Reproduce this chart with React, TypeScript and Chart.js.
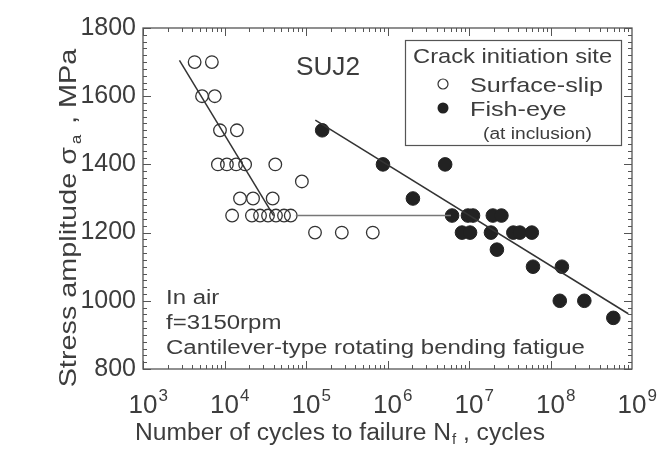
import React, { useEffect, useRef } from "react";
import { Chart, registerables } from "chart.js";

Chart.register(...registerables);

// ---------- data ----------
const surfaceSlipN = [
  4.3e3, 7.0e3,
  5.3e3, 7.6e3,
  8.8e3, 1.42e4,
  8.3e3, 1.07e4, 1.39e4, 1.79e4, 4.2e4,
  8.9e4,
  1.55e4, 2.24e4, 3.9e4,
  1.24e4, 2.17e4, 2.73e4, 3.42e4, 4.28e4, 5.37e4, 6.5e4,
  1.29e5, 2.75e5, 6.6e5,
];
const surfaceSlipS = [
  1700, 1700,
  1600, 1600,
  1500, 1500,
  1400, 1400, 1400, 1400, 1400,
  1350,
  1300, 1300, 1300,
  1250, 1250, 1250, 1250, 1250, 1250, 1250,
  1200, 1200, 1200,
];

const fishEyeN = [
  1.58e5,
  8.8e5, 5.1e6,
  2.05e6,
  6.2e6, 9.7e6, 1.12e7, 1.96e7, 2.5e7,
  8.2e6, 1.03e7, 1.86e7, 3.5e7, 4.2e7, 5.9e7,
  2.2e7,
  6.1e7, 1.38e8,
  1.3e8, 2.6e8,
  5.9e8,
];
const fishEyeS = [
  1500,
  1400, 1400,
  1300,
  1250, 1250, 1250, 1250, 1250,
  1200, 1200, 1200, 1200, 1200, 1200,
  1150,
  1100, 1100,
  1000, 1000,
  950,
];

const surfaceLineN = [2.8e3, 4.0e4];
const surfaceLineS = [1705, 1250];
const limitLineN = [7.5e4, 6.0e6];
const limitLineS = [1250, 1250];
const fishLineN = [1.3e5, 9.0e8];
const fishLineS = [1530, 962];

const xTickExponents = [3, 4, 5, 6, 7, 8, 9];
const yTickValues = [800, 1000, 1200, 1400, 1600, 1800];

const xTitleMain = "Number of cycles to failure N";
const xTitleSub = "f";
const xTitleEnd = " , cycles";
const yTitleMain = "Stress amplitude σ";
const yTitleSub = "a";
const yTitleEnd = " , MPa";
const materialLabel = "SUJ2";
const conditionLines = ["In air", "f=3150rpm", "Cantilever-type rotating bending fatigue"];
const legendTitle = "Crack initiation site";
const legendSurface = "Surface-slip";
const legendFish = "Fish-eye";
const legendFishNote = "(at inclusion)";

const FONT = "'Liberation Sans', Arial, Helvetica, sans-serif";
const TEXT = "#3d3d3d";
const AXIS = "#555555";

const toPts = (xs: number[], ys: number[]) => xs.map((x, i) => ({ x, y: ys[i] }));

// draw text horizontally stretched (the scanned font is wider than Arial)
function wideText(
  ctx: CanvasRenderingContext2D,
  text: string,
  x: number,
  y: number,
  size: number,
  stretch: number,
  align: "left" | "center" = "left"
) {
  ctx.save();
  ctx.font = `${size}px ${FONT}`;
  ctx.textAlign = "left";
  const w = ctx.measureText(text).width * stretch;
  const x0 = align === "center" ? x - w / 2 : x;
  ctx.translate(x0, y);
  ctx.scale(stretch, 1);
  ctx.fillText(text, 0, 0);
  ctx.restore();
  return w;
}
function textWidth(ctx: CanvasRenderingContext2D, text: string, size: number, stretch: number) {
  ctx.font = `${size}px ${FONT}`;
  return ctx.measureText(text).width * stretch;
}

const decorPlugin = {
  id: "decor",
  afterDraw(chart: any) {
    const ctx = chart.ctx as CanvasRenderingContext2D;
    const xs = chart.scales.x;
    const ys = chart.scales.y;
    const { left, right, top, bottom } = chart.chartArea;
    ctx.save();

    // frame
    ctx.strokeStyle = AXIS;
    ctx.lineWidth = 1.3;
    ctx.strokeRect(left, top, right - left, bottom - top);

    // ticks
    ctx.lineWidth = 1;
    ctx.beginPath();
    for (let v = 800; v <= 1800; v += 20) {
      const y = Math.round(ys.getPixelForValue(v)) + 0.5;
      const len = v % 200 === 0 ? 8 : 4;
      ctx.moveTo(left, y);
      ctx.lineTo(left + len, y);
      ctx.moveTo(right, y);
      ctx.lineTo(right - len, y);
    }
    for (let e = 3; e < 9; e++) {
      for (let m = 1; m <= 9; m++) {
        const v = m * Math.pow(10, e);
        const x = Math.round(xs.getPixelForValue(v)) + 0.5;
        const len = m === 1 ? 8 : 4;
        ctx.moveTo(x, bottom);
        ctx.lineTo(x, bottom - len);
        ctx.moveTo(x, top);
        ctx.lineTo(x, top + len);
      }
    }
    ctx.stroke();

    ctx.fillStyle = TEXT;
    ctx.textBaseline = "alphabetic";

    // x tick labels: "10" centred on tick with superscript exponent
    for (const e of xTickExponents) {
      const x = xs.getPixelForValue(Math.pow(10, e));
      ctx.font = `26px ${FONT}`;
      ctx.textAlign = "center";
      const w = ctx.measureText("10").width;
      ctx.fillText("10", x, bottom + 44);
      ctx.font = `17px ${FONT}`;
      ctx.textAlign = "left";
      ctx.fillText(String(e), x + w / 2 + 1, bottom + 32);
    }

    // x title with subscript
    {
      const S = 1.07;
      const w1 = textWidth(ctx, xTitleMain, 23, S);
      const w2 = textWidth(ctx, xTitleSub, 15, 1);
      const w3 = textWidth(ctx, xTitleEnd, 23, S);
      const total = w1 + w2 + w3 + 1;
      const x0 = 340 - total / 2;
      const by = 440;
      wideText(ctx, xTitleMain, x0, by, 23, S);
      wideText(ctx, xTitleSub, x0 + w1 + 1, by + 4, 15, 1);
      wideText(ctx, xTitleEnd, x0 + w1 + w2 + 1, by, 23, S);
    }

    // y title rotated
    {
      const S = 1.2;
      const w1 = textWidth(ctx, yTitleMain, 24, S);
      const w2 = textWidth(ctx, yTitleSub, 15, 1.1);
      const w3 = textWidth(ctx, yTitleEnd, 24, S);
      const total = w1 + w2 + w3 + 6;
      ctx.save();
      ctx.translate(76, 218);
      ctx.rotate(-Math.PI / 2);
      const x0 = -total / 2;
      wideText(ctx, yTitleMain, x0, 0, 24, S);
      wideText(ctx, yTitleSub, x0 + w1 + 3, 5, 15, 1.1);
      wideText(ctx, yTitleEnd, x0 + w1 + w2 + 6, 0, 24, S);
      ctx.restore();
    }

    // material label
    wideText(ctx, materialLabel, 328, 75, 25, 1.05, "center");

    // conditions text
    conditionLines.forEach((t, i) => wideText(ctx, t, 166, 304 + i * 25, 20, 1.2));

    // legend box
    ctx.fillStyle = "#ffffff";
    ctx.fillRect(405, 40, 216, 105);
    ctx.strokeStyle = AXIS;
    ctx.lineWidth = 1.2;
    ctx.strokeRect(405.5, 40.5, 216, 105);
    ctx.fillStyle = TEXT;
    wideText(ctx, legendTitle, 413, 63, 21, 1.13);
    wideText(ctx, legendSurface, 470, 92, 21, 1.2);
    wideText(ctx, legendFish, 470, 116, 21, 1.2);
    wideText(ctx, legendFishNote, 483, 139, 16, 1.2);
    ctx.beginPath();
    ctx.arc(443, 84, 5, 0, Math.PI * 2);
    ctx.strokeStyle = "#333";
    ctx.lineWidth = 1.2;
    ctx.stroke();
    ctx.beginPath();
    ctx.arc(443, 108, 5.5, 0, Math.PI * 2);
    ctx.fillStyle = "#222";
    ctx.fill();

    ctx.restore();
  },
};

export default function App() {
  const ref = useRef<HTMLCanvasElement>(null);
  useEffect(() => {
    if (!ref.current) return;
    const chart = new Chart(ref.current, {
      type: "scatter",
      data: {
        datasets: [
          {
            type: "line",
            label: "surface line",
            data: toPts(surfaceLineN, surfaceLineS),
            borderColor: "#333",
            borderWidth: 1.5,
            pointRadius: 0,
            showLine: true,
          },
          {
            type: "line",
            label: "limit line",
            data: toPts(limitLineN, limitLineS),
            borderColor: "#777",
            borderWidth: 1.5,
            pointRadius: 0,
            showLine: true,
          },
          {
            type: "line",
            label: "fish line",
            data: toPts(fishLineN, fishLineS),
            borderColor: "#333",
            borderWidth: 1.5,
            pointRadius: 0,
            showLine: true,
          },
          {
            label: "Surface-slip",
            data: toPts(surfaceSlipN, surfaceSlipS),
            pointStyle: "circle",
            pointRadius: 6.3,
            backgroundColor: "rgba(255,255,255,0)",
            borderColor: "#333",
            borderWidth: 1.3,
          },
          {
            label: "Fish-eye",
            data: toPts(fishEyeN, fishEyeS),
            pointStyle: "circle",
            pointRadius: 6.8,
            backgroundColor: "#222",
            borderColor: "#222",
            borderWidth: 1,
          },
        ],
      },
      options: {
        responsive: false,
        animation: false,
        layout: { padding: { left: 0, top: 28, right: 35, bottom: 0 } },
        plugins: { legend: { display: false }, tooltip: { enabled: false } },
        scales: {
          x: {
            type: "logarithmic",
            min: 1e3,
            max: 1e9,
            grid: { display: false, drawTicks: false },
            border: { display: false },
            ticks: { display: false },
            afterFit: (s: any) => {
              s.height = 81;
              s.paddingLeft = 0;
              s.paddingRight = 0;
            },
          },
          y: {
            type: "linear",
            min: 800,
            max: 1800,
            grid: { display: false, drawTicks: false },
            border: { display: false },
            afterBuildTicks: (s: any) => {
              s.ticks = yTickValues.map((v) => ({ value: v }));
            },
            ticks: {
              color: TEXT,
              padding: 7,
              font: { size: 25, family: FONT },
              callback: (v: any) => String(v),
            },
            afterFit: (s: any) => {
              s.width = 143;
              s.paddingTop = 0;
              s.paddingBottom = 0;
            },
          },
        },
      },
      plugins: [decorPlugin],
    });
    return () => chart.destroy();
  }, []);
  return (
    <div style={{ position: "fixed", left: 0, top: 0, width: 667, height: 450, background: "#fff" }}>
      <canvas ref={ref} width={667} height={450} style={{ display: "block" }} />
    </div>
  );
}
